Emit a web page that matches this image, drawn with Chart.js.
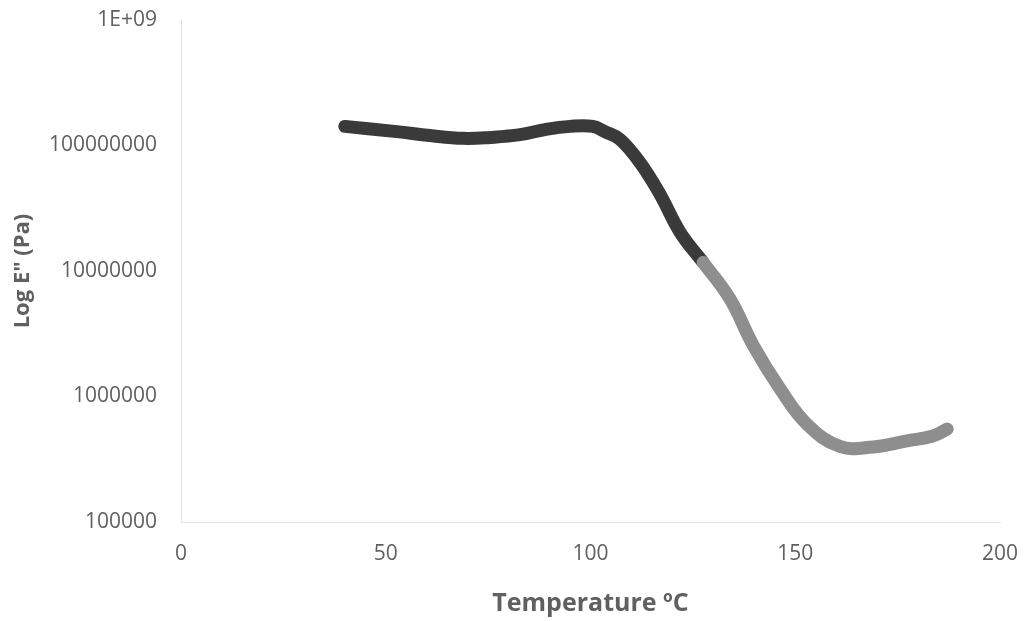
<!DOCTYPE html>
<html>
<head>
<meta charset="utf-8">
<script src="https://cdn.jsdelivr.net/npm/chart.js@4"></script>
<style>
  html, body { margin: 0; padding: 0; background: #fff; }
  #wrap { width: 1026px; height: 621px; }
</style>
</head>
<body>
<div id="wrap"><canvas id="myChart"></canvas></div>
<script>
// values
var temperature = [40.0, 52.7, 60.8, 68.9, 75.5, 82.8, 88.9, 95.0, 100.6, 103.5, 107.2, 112.1, 117.0, 121.9, 127.5,
                   134.1, 139.7, 146.3, 152.9, 160.9, 169.0, 177.3, 183.6, 187.1];
var modulus = [1.42e8, 1.29e8, 1.20e8, 1.14e8, 1.16e8, 1.22e8, 1.34e8, 1.42e8, 1.42e8, 1.29e8, 1.12e8, 7.3e7, 4.07e7, 2.03e7, 1.17e7,
               5.96e6, 2.57e6, 1.15e6, 6.0e5, 4.0e5, 3.96e5, 4.43e5, 4.85e5, 5.5e5];
var fadeFrom = 127.5; // scan gets lighter after this temperature
var xTicks = [0, 50, 100, 150, 200];
var yTicks = [1e5, 1e6, 1e7, 1e8, 1e9];

var points = temperature.map(function(t, i){ return {x: t, y: modulus[i]}; });
var textGray = '#606060';
var font = 'Open Sans';

var segColor = function(dark, light){
	return function(ctx){ return ctx.p0.parsed.x >= fadeFrom ? light : dark; };
};

var ctx = document.getElementById('myChart');
var myChart = new Chart(ctx, {
	type: 'line',
	data: {
		datasets: [{
			data: points,
			borderWidth: 13,
			borderColor: '#3a3a3a',
			segment: { borderColor: segColor('#3a3a3a', '#8e8e8e') },
			borderCapStyle: 'round',
			borderJoinStyle: 'round',
			pointRadius: 0,
			tension: 0.4
		}, {
			data: points,
			borderWidth: 7,
			borderColor: '#6a6a6a',
			segment: { borderColor: segColor('#6a6a6a', '#b8b8b8') },
			borderCapStyle: 'round',
			borderJoinStyle: 'round',
			pointRadius: 0,
			tension: 0.4
		}]
	},
	options: {
		responsive: true,
		maintainAspectRatio: false,
		animation: false,
		layout: { padding: { top: 20, right: 26, left: 0, bottom: 0 } },
		plugins: { legend: { display: false }, tooltip: { enabled: false } },
		scales: {
			x: {
				type: 'linear',
				min: 0, max: 200,
				afterBuildTicks: function(scale){ scale.ticks = xTicks.map(function(v){ return {value: v}; }); },
				afterFit: function(scale){ scale.height = 99; },
				// invisible tick marks keep the labels away from the axis
				grid: { display: false, drawTicks: true, tickLength: 15 },
				border: { display: true, color: '#e2e2e2', width: 1, dash: [7, 4] },
				ticks: { color: textGray, font: { family: font, size: 21 }, padding: 4, maxRotation: 0 },
				title: { display: true, text: 'Temperature ºC', color: textGray,
				         font: { family: font, size: 25, weight: 'bold' }, padding: { top: 3, bottom: 2 } }
			},
			y: {
				type: 'logarithmic',
				min: 1e5, max: 1e9,
				afterBuildTicks: function(scale){ scale.ticks = yTicks.map(function(v){ return {value: v}; }); },
				afterFit: function(scale){ scale.width = 181; },
				grid: { display: false, drawTicks: true, tickLength: 20 },
				border: { display: true, color: '#e2e2e2', width: 1, dash: [7, 4] },
				ticks: {
					color: textGray, font: { family: font, size: 21 }, padding: 4,
					callback: function(v){ return v === 1e9 ? '1E+09' : String(v); }
				},
				title: { display: true, text: 'Log E" (Pa)', color: textGray,
				         font: { family: font, size: 22, weight: 'bold' }, padding: { top: 10, bottom: 0 } }
			}
		}
	}
});
</script>
</body>
</html>
